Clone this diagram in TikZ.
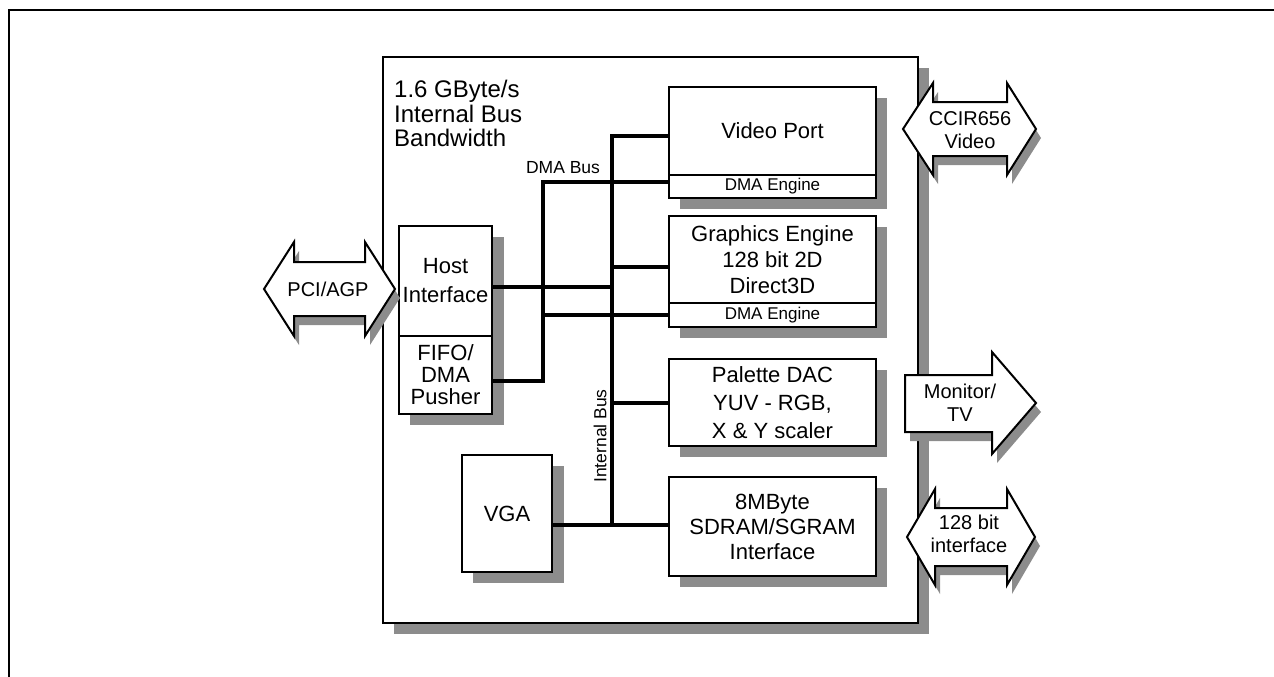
\documentclass[tikz,border=0pt]{standalone}
\usepackage{fontspec}
\setmainfont{Liberation Sans}
\begin{document}
\begin{tikzpicture}[x=1pt,y=-1pt,
  blk/.style={draw, line width=2.4pt, fill=white, inner sep=0pt, align=center, minimum width=207pt, font=\fontsize{22}{26}\selectfont},
  dmae/.style={blk, font=\fontsize{17}{17}\selectfont},
  shd/.style={fill=black!45},
  bus/.style={line width=4pt, line cap=rect},
  arr/.style={draw, line width=2pt, fill=white, line join=miter},
  atext/.style={align=center, inner sep=0pt, font=\fontsize{20}{23}\selectfont},
  lbl/.style={inner sep=0pt, font=\fontsize{17.5}{18}\selectfont}]
\useasboundingbox (0,0) rectangle (1274,677);
\clip (0,0) rectangle (1274,677);
% outer frame
\draw[line width=2.5pt] (9,700) -- (9,10) -- (1290,10);
% main chip
\fill[shd] (394,68) rectangle (929,634);
\node[draw, line width=2.4pt, fill=white, minimum width=535pt, minimum height=566pt, inner sep=0pt] (chip) at (650.5,340) {};
\node[anchor=north west, align=left, inner sep=0pt, font=\fontsize{24}{24.5}\selectfont] (bw) at (394,80) {1.6 GByte/s\\Internal Bus\\Bandwidth};
% shadows of blocks
\fill[shd] (680,98) rectangle (887,209);
\fill[shd] (680,227) rectangle (887,338);
\fill[shd] (680,370) rectangle (887,457);
\fill[shd] (680,488) rectangle (887,587);
\fill[shd] (473,466) rectangle (564,583);
\fill[shd] (410,237) rectangle (504,425);
% blocks
\node[blk, minimum height=88pt] (vp) at (772.5,131) {Video Port};
\node[dmae, minimum height=23pt] (vpd) at (772.5,186.5) {DMA Engine};
\node[blk, minimum height=87pt] (ge) at (772.5,259.5) {Graphics Engine\\128 bit 2D\\Direct3D};
\node[dmae, minimum height=24pt] (ged) at (772.5,315) {DMA Engine};
\node[blk, minimum height=87pt, font=\fontsize{22}{28}\selectfont] (pal) at (772.5,402.5) {Palette DAC\\YUV - RGB,\\X \& Y scaler};
\node[blk, minimum height=99pt, font=\fontsize{22}{25}\selectfont] (sd) at (772.5,526.5) {8MByte\\SDRAM/SGRAM\\Interface};
\node[blk, minimum width=90pt, minimum height=117pt] (vga) at (507,513.5) {VGA};
\node[blk, minimum width=93pt, minimum height=110pt, font=\fontsize{22}{29}\selectfont] (host) at (445.5,281) {Host\\Interface};
\node[blk, minimum width=93pt, minimum height=78pt, font=\fontsize{22}{22}\selectfont] (fifo) at (445.5,375) {FIFO/\\DMA\\Pusher};
% bus junctions
\coordinate (ibtop) at (612,136);
\coordinate (ibbot) at (612,525);
\coordinate (dbtop) at (543,182);
\coordinate (dbbot) at (543,381);
\coordinate (ibge) at (612,267);
\coordinate (ibhost) at (612,287);
\coordinate (dbge) at (543,315);
% internal bus
\draw[bus] (vp.west |- ibtop) -- (ibtop) -- (ibbot);
\draw[bus] (ibge) -- (ge.west |- ibge);
\draw[bus] (host.east |- ibhost) -- (ibhost);
\draw[bus] (ibtop |- pal.west) -- (pal.west);
\draw[bus] (vga.east |- ibbot) -- (sd.west |- ibbot);
% DMA bus
\draw[bus] (vpd.west |- dbtop) -- (dbtop) -- (dbbot) -- (fifo.east |- dbbot);
\draw[bus] (dbge) -- (ged.west |- dbge);
\node[lbl] (dmalbl) at (563,168) {DMA Bus};
\node[lbl, rotate=90] (iblbl) at (600,436) {Internal Bus};
% PCI/AGP arrow
\fill[shd] (269,298)--(299,251)--(299,271)--(370,271)--(370,251)--(400,298)--(370,345)--(370,325)--(299,325)--(299,345)--cycle;
\draw[arr] (264,289)--(294,242)--(294,262)--(365,262)--(365,242)--(395,289)--(365,336)--(365,316)--(294,316)--(294,336)--cycle;
\node[atext] (pci) at (328,289) {PCI/AGP};
% CCIR656 arrow
\fill[shd] (908,138)--(938,92)--(938,111)--(1012,111)--(1012,92)--(1041,138)--(1012,184)--(1012,165)--(938,165)--(938,184)--cycle;
\draw[arr] (903,129)--(933,83)--(933,102)--(1007,102)--(1007,83)--(1036,129)--(1007,175)--(1007,156)--(933,156)--(933,175)--cycle;
\node[atext] (ccir) at (970,130) {CCIR656\\Video};
% Monitor/TV arrow
\fill[shd] (910,384)--(997,384)--(997,361)--(1041,412)--(997,463)--(997,441)--(910,441)--cycle;
\draw[arr] (905,375)--(992,375)--(992,352)--(1036,403)--(992,454)--(992,432)--(905,432)--cycle;
\node[atext] (mon) at (960,403) {Monitor/\\TV};
% 128 bit interface arrow
\fill[shd] (912,546)--(940,498)--(940,517)--(1012,517)--(1012,498)--(1040,546)--(1012,594)--(1012,575)--(940,575)--(940,594)--cycle;
\draw[arr] (907,537)--(935,489)--(935,508)--(1007,508)--(1007,489)--(1035,537)--(1007,585)--(1007,566)--(935,566)--(935,585)--cycle;
\node[atext] (mem) at (969,534) {128 bit\\interface};
\end{tikzpicture}
\end{document}
